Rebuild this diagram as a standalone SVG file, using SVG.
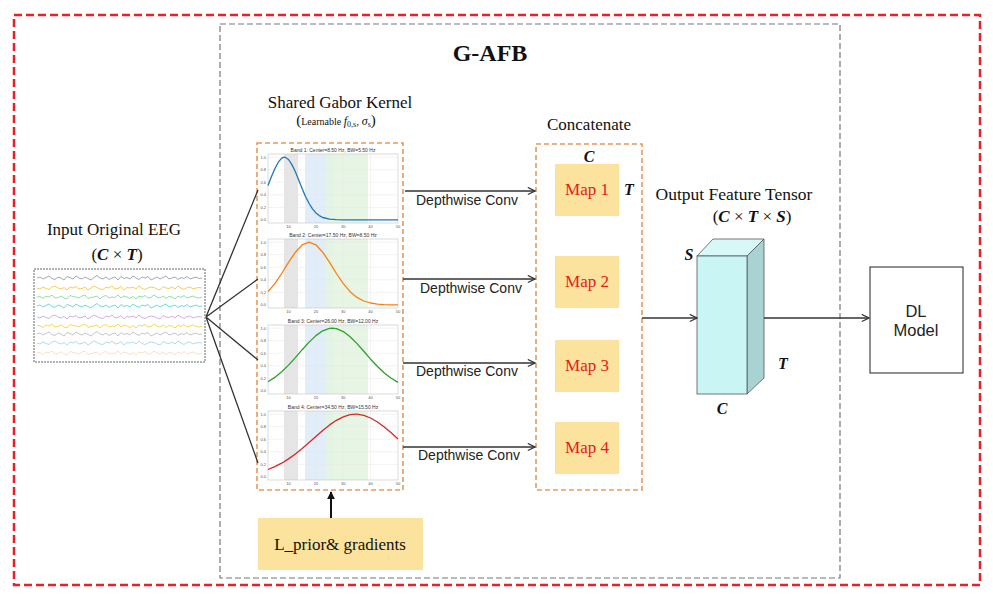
<svg xmlns="http://www.w3.org/2000/svg" xmlns:xlink="http://www.w3.org/1999/xlink" width="993" height="598" viewBox="0 0 993 598">
<style>
.serif{font-family:"Liberation Serif","Times New Roman",serif;fill:#111}
.sans{font-family:"Liberation Sans",Arial,sans-serif;fill:#222}
.math{font-family:"Liberation Serif","Times New Roman",serif;font-weight:bold;font-style:italic;fill:#111}
.conn{stroke:#333;stroke-width:1.3;fill:none}
.tick{font-family:"Liberation Sans",Arial,sans-serif;font-size:4px;fill:#555}
.ptitle{font-family:"Liberation Sans",Arial,sans-serif;font-size:5px;fill:#333;text-anchor:middle}
.grid{stroke:#e6e6e6;stroke-width:0.5}
.curve{fill:none;stroke-width:1.3;stroke-linejoin:round}
.map{fill:#fce39d}
.maptxt{font-family:"Liberation Serif","Times New Roman",serif;font-size:17px;fill:#e3201b;text-anchor:middle}
.eeg{fill:none;stroke-width:0.9}
</style>
<defs>
<marker id="open" viewBox="0 0 10 10" refX="9" refY="5" markerWidth="9" markerHeight="9" markerUnits="userSpaceOnUse" orient="auto"><path d="M1,1 L9,5 L1,9" fill="none" stroke="#333" stroke-width="1.3"/></marker>
<marker id="solid" viewBox="0 0 10 10" refX="9" refY="5" markerWidth="8" markerHeight="8" markerUnits="userSpaceOnUse" orient="auto"><path d="M0,0 L10,5 L0,10 z" fill="#111"/></marker>
<g id="axes">
<rect x="268" y="0" width="130" height="69" fill="#fff"/>
<rect x="284" y="0" width="14" height="69" fill="#e5e5e5"/>
<rect x="305" y="0" width="28" height="69" fill="#e1eefa"/>
<rect x="326" y="0" width="42" height="69" fill="#e3f5df" opacity="0.85"/>
<path class="grid" d="M288.5,0V69M315.9,0V69M343.3,0V69M370.6,0V69M268,53.4H398M268,40.8H398M268,28.3H398M268,15.7H398M268,3.2H398"/>
<rect x="268" y="0" width="130" height="69" fill="none" stroke="#c4c4c4" stroke-width="0.6"/>
<g class="tick" text-anchor="end"><text x="266" y="67.3">0.0</text><text x="266" y="54.8">0.2</text><text x="266" y="42.2">0.4</text><text x="266" y="29.7">0.6</text><text x="266" y="17.1">0.8</text><text x="266" y="4.6">1.0</text></g>
<g class="tick" text-anchor="middle"><text x="288.5" y="74">10</text><text x="315.9" y="74">20</text><text x="343.3" y="74">30</text><text x="370.6" y="74">40</text><text x="398" y="74">50</text></g>
</g>
<path id="nA" d="M0,0 L3,-1 6,1 9,-0.5 12,-2 15,0.5 18,1.5 21,-1 24,0 27,2 30,-1.5 33,-0.5 36,1 39,-2 42,0 45,1 48,-1 51,0.5 54,2 57,-0.5 60,-2.5 63,0 66,1 69,-1 72,1.5 75,0 78,-1 81,2 84,-1.5 87,0.5 90,-0.5 93,1 96,-2 99,0 102,1.5 105,-1 108,0 111,-1.5 114,2 117,0.5 120,-1 123,1 126,-0.5 129,-2 132,1 135,0 138,-1 141,1.5 144,-0.5 147,0.5 150,-1.5 153,1 156,0 159,-1 162,0.5 165,0"/>
<path id="nB" d="M0,0 L3,1 6,-1 9,0.5 12,1.5 15,-1 18,-2 21,0 24,1 27,-0.5 30,2 33,-1 36,0 39,-1.5 42,1 45,0.5 48,-1 51,2 54,0 57,-2 60,-0.5 63,1 66,1.5 69,-1 72,0 75,-2 78,1 81,0.5 84,-1.5 87,2 90,-0.5 93,0 96,-1 99,1 102,-2 105,0.5 108,1.5 111,0 114,-1 117,-0.5 120,1 123,2 126,-1.5 129,0 132,0.5 135,-1 138,1 141,-2 144,0 147,1.5 150,-0.5 153,-1 156,1 159,0 162,-0.5 165,0"/>
<path id="nC" d="M0,0 L3,-0.5 6,1.5 9,-1 12,0 15,-2 18,1 21,0.5 24,-1 27,1 30,2 33,-1.5 36,-0.5 39,0 42,1 45,-1 48,-2 51,1.5 54,0.5 57,0 60,-1 63,2 66,-0.5 69,-1.5 72,1 75,0 78,0.5 81,-2 84,1 87,-1 90,0 93,1.5 96,-0.5 99,2 102,-1 105,0 108,-1.5 111,1 114,0.5 117,-2 120,0 123,1 126,-1 129,1.5 132,-0.5 135,0 138,2 141,-1 144,0.5 147,-1.5 150,1 153,0 156,-1 159,0.5 162,1 165,0"/>
</defs>
<rect width="993" height="598" fill="#fff"/>

<g id="outer-frame"><rect x="14" y="15" width="966" height="570" fill="none" stroke="#e8202a" stroke-width="2.5" stroke-dasharray="8,4"/></g>
<g id="gafb-frame"><rect x="220" y="24" width="620" height="554" fill="none" stroke="#777" stroke-width="1.2" stroke-dasharray="6,3"/>
<text class="serif" x="490" y="61" font-size="24" font-weight="bold" text-anchor="middle">G-AFB</text></g>

<g id="input-eeg">
<text class="serif" x="114" y="235" font-size="17" text-anchor="middle">Input Original EEG</text>
<text class="serif" x="117" y="260" font-size="17" text-anchor="middle">(<tspan class="math">C</tspan> × <tspan class="math">T</tspan>)</text>
<rect x="34" y="269" width="171" height="93" fill="#fff" stroke="#555" stroke-width="0.9" stroke-dasharray="2,1"/>
<use href="#nA" class="eeg" stroke="#9c9cae" transform="translate(37,278)"/>
<use href="#nB" class="eeg" stroke="#f2c84b" transform="translate(37,288)"/>
<use href="#nC" class="eeg" stroke="#7fe0a2" transform="translate(37,297)"/>
<use href="#nA" class="eeg" stroke="#5fd6d8" transform="translate(37,306)"/>
<use href="#nB" class="eeg" stroke="#c8a8f0" transform="translate(37,317)"/>
<use href="#nC" class="eeg" stroke="#f4d443" transform="translate(37,326)"/>
<use href="#nA" class="eeg" stroke="#bdbdcc" transform="translate(37,334)"/>
<use href="#nB" class="eeg" stroke="#a2d8f0" transform="translate(37,343)"/>
<use href="#nC" class="eeg" stroke="#f8dcc2" transform="translate(37,353)"/>
</g>

<g id="gabor-kernel">
<text class="serif" x="340" y="108" font-size="17" text-anchor="middle">Shared Gabor Kernel</text>
<text class="serif" x="336" y="125" text-anchor="middle"><tspan font-size="15">(</tspan><tspan font-size="10">Learnable </tspan><tspan font-size="12" font-style="italic">f</tspan><tspan font-size="8" dy="2">0,s</tspan><tspan font-size="11" dy="-2">, </tspan><tspan font-size="12" font-style="italic">σ</tspan><tspan font-size="8" dy="2">s</tspan><tspan font-size="15" dy="-2">)</tspan></text>
<rect x="257" y="143" width="146" height="347" fill="none" stroke="#e39a58" stroke-width="1.6" stroke-dasharray="5,3"/>
<g id="band1" transform="translate(0,154)">
<use href="#axes"/>
<text class="ptitle" x="333" y="-2.5">Band 1: Center=8.50 Hz, BW=5.50 Hz</text>
<polyline class="curve" stroke="#1f77b4" points="268,31.4 271.4,22.7 274.8,14.7 278.3,8.2 281.7,4.2 284.4,3.2 285.1,3.3 288.5,5.5 291.9,10.6 295.4,17.7 298.8,26.2 302.2,34.7 305.6,42.7 309.1,49.5 312.5,54.9 315.9,58.9 319.3,61.6 322.7,63.5 329.6,65.2 336.4,65.7 343.3,65.9 398,65.9"/>
</g>
<g id="band2" transform="translate(0,239)">
<use href="#axes"/>
<text class="ptitle" x="333" y="-2.5">Band 2: Center=17.50 Hz, BW=8.50 Hz</text>
<polyline class="curve" stroke="#ff7f0e" points="268,52.7 274.8,44.6 281.7,34.5 288.5,23.4 295.4,13.2 302.2,5.8 309.1,3.2 315.9,5.8 322.7,13.2 329.6,23.4 336.4,34.5 343.3,44.6 350.1,52.7 357,58.4 363.8,62 370.6,64 377.5,65.1 384.3,65.6 391.2,65.8 398,65.9"/>
</g>
<g id="band3" transform="translate(0,325)">
<use href="#axes"/>
<text class="ptitle" x="333" y="-2.5">Band 3: Center=26.00 Hz, BW=12.00 Hz</text>
<polyline class="curve" stroke="#2ca02c" points="268,56.7 274.8,52.4 281.7,46.8 288.5,40.1 295.4,32.6 302.2,24.7 309.1,17.1 315.9,10.6 322.7,5.8 329.6,3.4 332.3,3.2 336.4,3.7 343.3,6.6 350.1,11.8 357,18.6 363.8,26.3 370.6,34.2 377.5,41.5 384.3,48 391.2,53.3 398,57.4"/>
</g>
<g id="band4" transform="translate(0,411)">
<use href="#axes"/>
<text class="ptitle" x="333" y="-2.5">Band 4: Center=34.50 Hz, BW=15.50 Hz</text>
<polyline class="curve" stroke="#d62728" points="268,58.5 274.8,55.6 281.7,52.2 288.5,47.9 295.4,43 302.2,37.5 309.1,31.5 315.9,25.4 322.7,19.4 329.6,13.9 336.4,9.3 343.3,5.8 350.1,3.7 355.6,3.2 357,3.2 363.8,4.4 370.6,7 377.5,11 384.3,16.1 391.2,21.8 398,27.9"/>
</g>
</g>

<g id="prior">
<rect x="258" y="518" width="165" height="52" fill="#fce39d"/>
<text class="serif" x="340" y="550" font-size="17" text-anchor="middle">L_prior&amp; gradients</text>
</g>

<g id="concatenate">
<text class="serif" x="589" y="130" font-size="17" text-anchor="middle">Concatenate</text>
<rect x="536" y="144" width="106" height="346" fill="none" stroke="#e39a58" stroke-width="1.6" stroke-dasharray="5,3"/>
<text class="math" x="589" y="162" font-size="16" text-anchor="middle">C</text>
<text class="math" x="629" y="195" font-size="16" text-anchor="middle">T</text>
<g id="map1"><rect class="map" x="555" y="164" width="64" height="52"/><text class="maptxt" x="587" y="195">Map 1</text></g>
<g id="map2"><rect class="map" x="555" y="256" width="64" height="52"/><text class="maptxt" x="587" y="287">Map 2</text></g>
<g id="map3"><rect class="map" x="555" y="340" width="64" height="52"/><text class="maptxt" x="587" y="371">Map 3</text></g>
<g id="map4"><rect class="map" x="555" y="422" width="64" height="52"/><text class="maptxt" x="587" y="453">Map 4</text></g>
</g>

<g id="output-tensor">
<text class="serif" x="734" y="200" font-size="17.5" text-anchor="middle">Output Feature Tensor</text>
<text class="serif" x="752" y="222" font-size="17" text-anchor="middle">(<tspan class="math">C</tspan> × <tspan class="math">T</tspan> × <tspan class="math">S</tspan>)</text>
<polygon points="697,256 713,239 764,239 747,256" fill="#d8f8f8" stroke="#555" stroke-width="0.8"/>
<polygon points="747,256 764,239 764,378 747,394" fill="#a9d3d3" stroke="#555" stroke-width="0.8"/>
<rect x="697" y="256" width="50" height="138" fill="#c9f5f5" stroke="#555" stroke-width="0.8"/>
<text class="math" x="689" y="260" font-size="16" text-anchor="middle">S</text>
<text class="math" x="783" y="369" font-size="16" text-anchor="middle">T</text>
<text class="math" x="722" y="414" font-size="16" text-anchor="middle">C</text>
</g>

<g id="dl-model">
<rect x="870" y="267" width="93" height="106" fill="#fff" stroke="#222" stroke-width="1"/>
<text class="sans" x="916" y="317" font-size="16.5" text-anchor="middle">DL</text>
<text class="sans" x="916" y="336" font-size="16.5" text-anchor="middle">Model</text>
</g>

<g id="connectors">
<path class="conn" stroke-width="1.1" d="M206,317 L258,190 M206,317 L258,279 M206,317 L258,360 M206,317 L258,463"/>
<line class="conn" x1="405" y1="191" x2="535" y2="191" marker-end="url(#open)"/>
<line class="conn" x1="403" y1="279" x2="535" y2="279" marker-end="url(#open)"/>
<line class="conn" x1="403" y1="363" x2="535" y2="363" marker-end="url(#open)"/>
<line class="conn" x1="403" y1="447" x2="535" y2="447" marker-end="url(#open)"/>
<text class="sans" x="416" y="205" font-size="14" fill="#333">Depthwise Conv</text>
<text class="sans" x="420" y="293" font-size="14" fill="#333">Depthwise Conv</text>
<text class="sans" x="416" y="376" font-size="14" fill="#333">Depthwise Conv</text>
<text class="sans" x="418" y="460" font-size="14" fill="#333">Depthwise Conv</text>
<line class="conn" x1="642" y1="318" x2="697" y2="318" marker-end="url(#open)"/>
<line class="conn" x1="764" y1="318" x2="869" y2="318" marker-end="url(#open)"/>
<line x1="331" y1="518" x2="331" y2="492" stroke="#111" stroke-width="2" marker-end="url(#solid)"/>
</g>
</svg>
